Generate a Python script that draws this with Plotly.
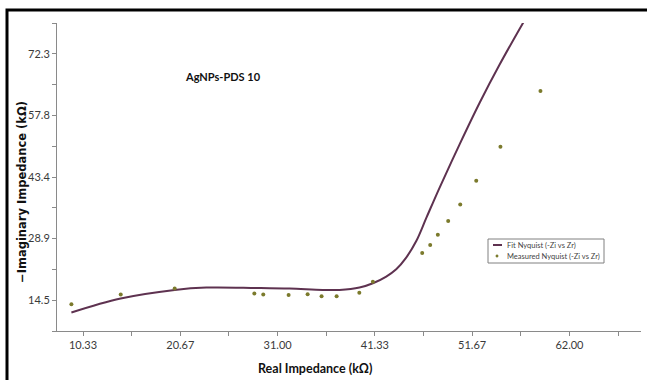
import plotly.graph_objects as go

# Measured Nyquist points (kOhm)
measured_zr = [9.10, 14.34, 20.07, 28.53, 29.48, 32.17, 34.19, 35.67, 37.27, 39.68,
               41.12, 46.36, 47.21, 48.02, 49.12, 50.40, 52.10, 54.67, 58.92]
measured_zi = [13.51, 15.78, 17.19, 16.02, 15.78, 15.69, 15.85, 15.38, 15.38, 16.18,
               18.76, 25.52, 27.39, 29.83, 33.01, 36.92, 42.46, 50.42, 63.53]

# Fitted Nyquist curve (kOhm)
fit_zr = [9.10, 14.33, 20.07, 23.43, 28.74, 32.27, 35.78, 37.58, 39.70, 41.12,
          42.54, 43.60, 44.66, 45.73, 46.82, 48.20, 50.32, 52.45, 54.57, 57.75]
fit_zi = [11.57, 14.85, 16.86, 17.42, 17.33, 17.19, 16.86, 16.86, 17.42, 18.43,
          20.00, 21.70, 24.44, 28.33, 33.87, 40.82, 50.96, 60.72, 69.68, 82.10]

x_tick_vals = [10.333, 20.667, 31.0, 41.333, 51.667, 62.0]
x_tick_text = ["10.33", "20.67", "31.00", "41.33", "51.67", "62.00"]
y_tick_vals = [14.45, 28.9, 43.35, 57.8, 72.25]
y_tick_text = ["14.5", "28.9", "43.4", "57.8", "72.3"]

fit_name = "Fit Nyquist (-Zi vs Zr)"
measured_name = "Measured Nyquist (-Zi vs Zr)"
fit_color = "#5e3250"
measured_color = "#7b7a2c"

W, H = 647, 380
L, R, T, B = 57, 6, 23, 49
pw, ph = W - L - R, H - T - B


def px(xp):
    return (xp - L) / pw


def py(yp):
    return (H - B - yp) / ph


tick_font = dict(family="Lato, sans-serif", size=11, color="#3a3a3a")
axis_col = "#8a8a8a"

fig = go.Figure()
fig.add_trace(go.Scatter(
    x=fit_zr, y=fit_zi, mode="lines", name=fit_name, showlegend=False,
    line=dict(color=fit_color, width=2, shape="spline", smoothing=1.0),
))
fig.add_trace(go.Scatter(
    x=measured_zr, y=measured_zi, mode="markers", name=measured_name, showlegend=False,
    marker=dict(color=measured_color, size=4, symbol="circle"),
))

legend_font = dict(family="Lato, sans-serif", size=7.5, color="#444")

fig.update_layout(
    width=W, height=H,
    margin=dict(l=L, r=R, t=T, b=B),
    paper_bgcolor="white", plot_bgcolor="white",
    showlegend=False,
    xaxis=dict(
        range=[7.57, 69.6], showgrid=False, zeroline=False,
        showline=True, linecolor=axis_col, linewidth=1,
        ticks="outside", ticklen=4, tickcolor=axis_col,
        tickmode="array", tickvals=x_tick_vals, ticktext=x_tick_text,
        tickfont=tick_font,
        minor=dict(ticks="outside", ticklen=4, tickcolor=axis_col, tick0=10.3333, dtick=5.16667),
    ),
    yaxis=dict(
        range=[7.225, 79.475], showgrid=False, zeroline=False,
        showline=True, linecolor=axis_col, linewidth=1,
        ticks="outside", ticklen=4, tickcolor=axis_col,
        tickmode="array", tickvals=y_tick_vals, ticktext=y_tick_text,
        tickfont=tick_font,
        minor=dict(ticks="outside", ticklen=4, tickcolor=axis_col, tick0=7.225, dtick=7.225),
    ),
    annotations=[
        dict(text="<b>−Imaginary Impedance (kΩ)</b>", xref="paper", yref="paper",
             x=px(22), y=py(192), textangle=-90, showarrow=False,
             xanchor="center", yanchor="middle",
             font=dict(family="DejaVu Sans, sans-serif", size=11.5, color="#111")),
        dict(text="<b>Real Impedance (kΩ)</b>", xref="paper", yref="paper",
             x=px(315), y=py(368), showarrow=False, xanchor="center", yanchor="middle",
             font=dict(family="Lato, sans-serif", size=12.5, color="#111")),
        dict(text="<b>AgNPs-PDS 10</b>", xref="paper", yref="paper",
             x=px(223), y=py(76), showarrow=False, xanchor="center", yanchor="middle",
             font=dict(family="Lato, sans-serif", size=11, color="#111")),
        # legend labels
        dict(text=fit_name, xref="paper", yref="paper", x=px(505), y=py(245),
             showarrow=False, xanchor="left", yanchor="middle", font=legend_font),
        dict(text=measured_name, xref="paper", yref="paper", x=px(505), y=py(256),
             showarrow=False, xanchor="left", yanchor="middle", font=legend_font),
    ],
    shapes=[
        # outer frame
        dict(type="rect", xref="paper", yref="paper",
             x0=px(7), x1=px(660), y0=py(395), y1=py(10),
             line=dict(color="black", width=3), fillcolor="rgba(0,0,0,0)", layer="above"),
        # legend box and swatches
        dict(type="rect", xref="paper", yref="paper",
             x0=px(488), x1=px(604), y0=py(263), y1=py(239),
             line=dict(color="#808080", width=1), fillcolor="white", layer="above"),
        dict(type="line", xref="paper", yref="paper",
             x0=px(493), x1=px(502), y0=py(245), y1=py(245),
             line=dict(color=fit_color, width=2), layer="above"),
        dict(type="circle", xref="paper", yref="paper",
             x0=px(495.8), x1=px(498.2), y0=py(257.2), y1=py(254.8),
             line=dict(color=measured_color, width=0.5), fillcolor=measured_color, layer="above"),
    ],
)

fig.write_html("out.html")
